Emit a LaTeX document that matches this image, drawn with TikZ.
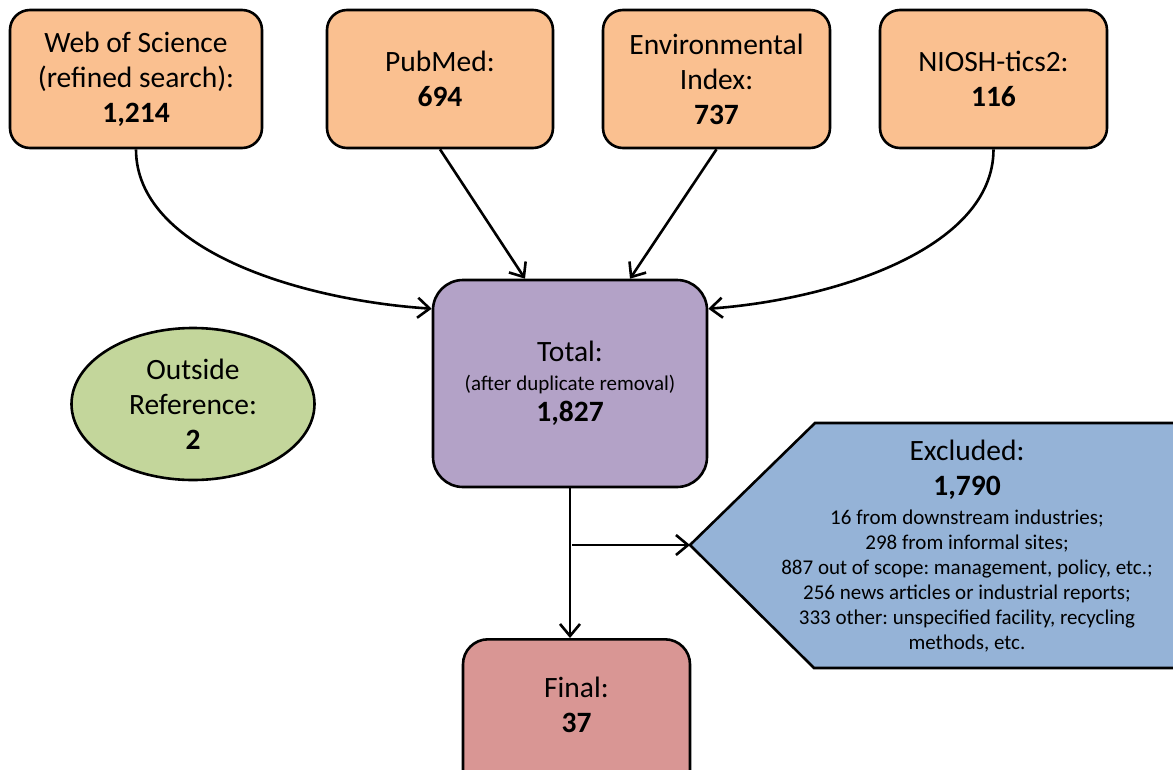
\documentclass[tikz,border=0pt]{standalone}
\usepackage{fontspec}
\setmainfont{Carlito}
\usetikzlibrary{arrows.meta,shapes.geometric}
\definecolor{srcorange}{HTML}{FAC090}
\definecolor{totpurple}{HTML}{B3A2C7}
\definecolor{outgreen}{HTML}{C3D69B}
\definecolor{exclblue}{HTML}{95B3D7}
\definecolor{finred}{HTML}{D99694}
\newcommand{\bigtxt}{\fontsize{29.5}{35}\selectfont}
\newcommand{\smalltxt}{\fontsize{21}{25}\selectfont}
\frenchspacing

\begin{document}
\begin{tikzpicture}[x=1pt,y=-1pt,font=\bigtxt,every node/.style={align=center},
  source/.style={draw=black,line width=2.6pt,fill=srcorange,rounded corners=20pt,minimum height=138pt,inner sep=0pt},
  totalbox/.style={draw=black,line width=2.6pt,fill=totpurple,rounded corners=30pt,minimum width=274pt,minimum height=207pt,inner sep=0pt},
  outsidebox/.style={draw=black,line width=2.6pt,fill=outgreen,ellipse,minimum width=243pt,minimum height=152pt,inner sep=0pt},
  finalbox/.style={draw=black,line width=2.6pt,fill=finred,rounded corners=25pt,minimum width=227pt,inner xsep=0pt,inner ysep=38pt,text depth=40pt},
  exclshape/.style={draw=black,line width=2.6pt,fill=exclblue},
  link/.style={line width=2.6pt,-{Straight Barb[length=12pt,width=20pt]}}]
  \useasboundingbox (0,0) rectangle (1173,769);
  \node[source,minimum width=252pt] (wos) at (136,79) {Web of Science\\(refined search):\\\textbf{1,214}};
  \node[source,minimum width=226pt] (pubmed) at (440,79) {PubMed:\\\textbf{694}};
  \node[source,minimum width=227pt] (envindex) at (716.5,79) {Environmental\\Index:\\\textbf{737}};
  \node[source,minimum width=227pt] (niosh) at (993.5,79) {NIOSH-tics2:\\\textbf{116}};
  \node[totalbox] (total) at (570,383.5) {Total:\\[-6pt]{\smalltxt (after duplicate removal)}\\[-4pt]\textbf{1,827}};
  \node[outsidebox] (outside) at (193,404) {Outside\\Reference:\\\textbf{2}};
  \node[finalbox,anchor=north] (final) at (576.5,638) {Final:\\\textbf{37}};
  % excluded arrow shape, runs off the right edge
  \coordinate (excltip) at (690,545);
  \draw[exclshape] (excltip) -- (815,423) -- (1190,423) -- (1190,668) -- (814,668) -- cycle;
  \node[font=\smalltxt] (excluded) at (967,546) {{\bigtxt Excluded:}\\[10pt]{\bigtxt\bfseries 1,790}\\[4pt]
    16 from downstream industries;\\298 from informal sites;\\887 out of scope: management, policy, etc.;\\
    256 news articles or industrial reports;\\333 other: unspecified facility, recycling\\methods, etc.};
  \draw[link] (wos.south) .. controls (136,250) and (300,300) .. ([yshift=-30pt]total.north west);
  \draw[link] (pubmed.south) -- ([xshift=-45pt]total.north);
  \draw[link] (envindex.south) -- ([xshift=60pt]total.north);
  \draw[link] (niosh.south) .. controls (993.5,250) and (830,300) .. ([yshift=-30pt]total.north east);
  \draw[link] (total.south) -- (total.south |- final.north);
  \coordinate (branch) at (572,545);
  \draw[link] (branch) -- (excltip);
\end{tikzpicture}
\end{document}
